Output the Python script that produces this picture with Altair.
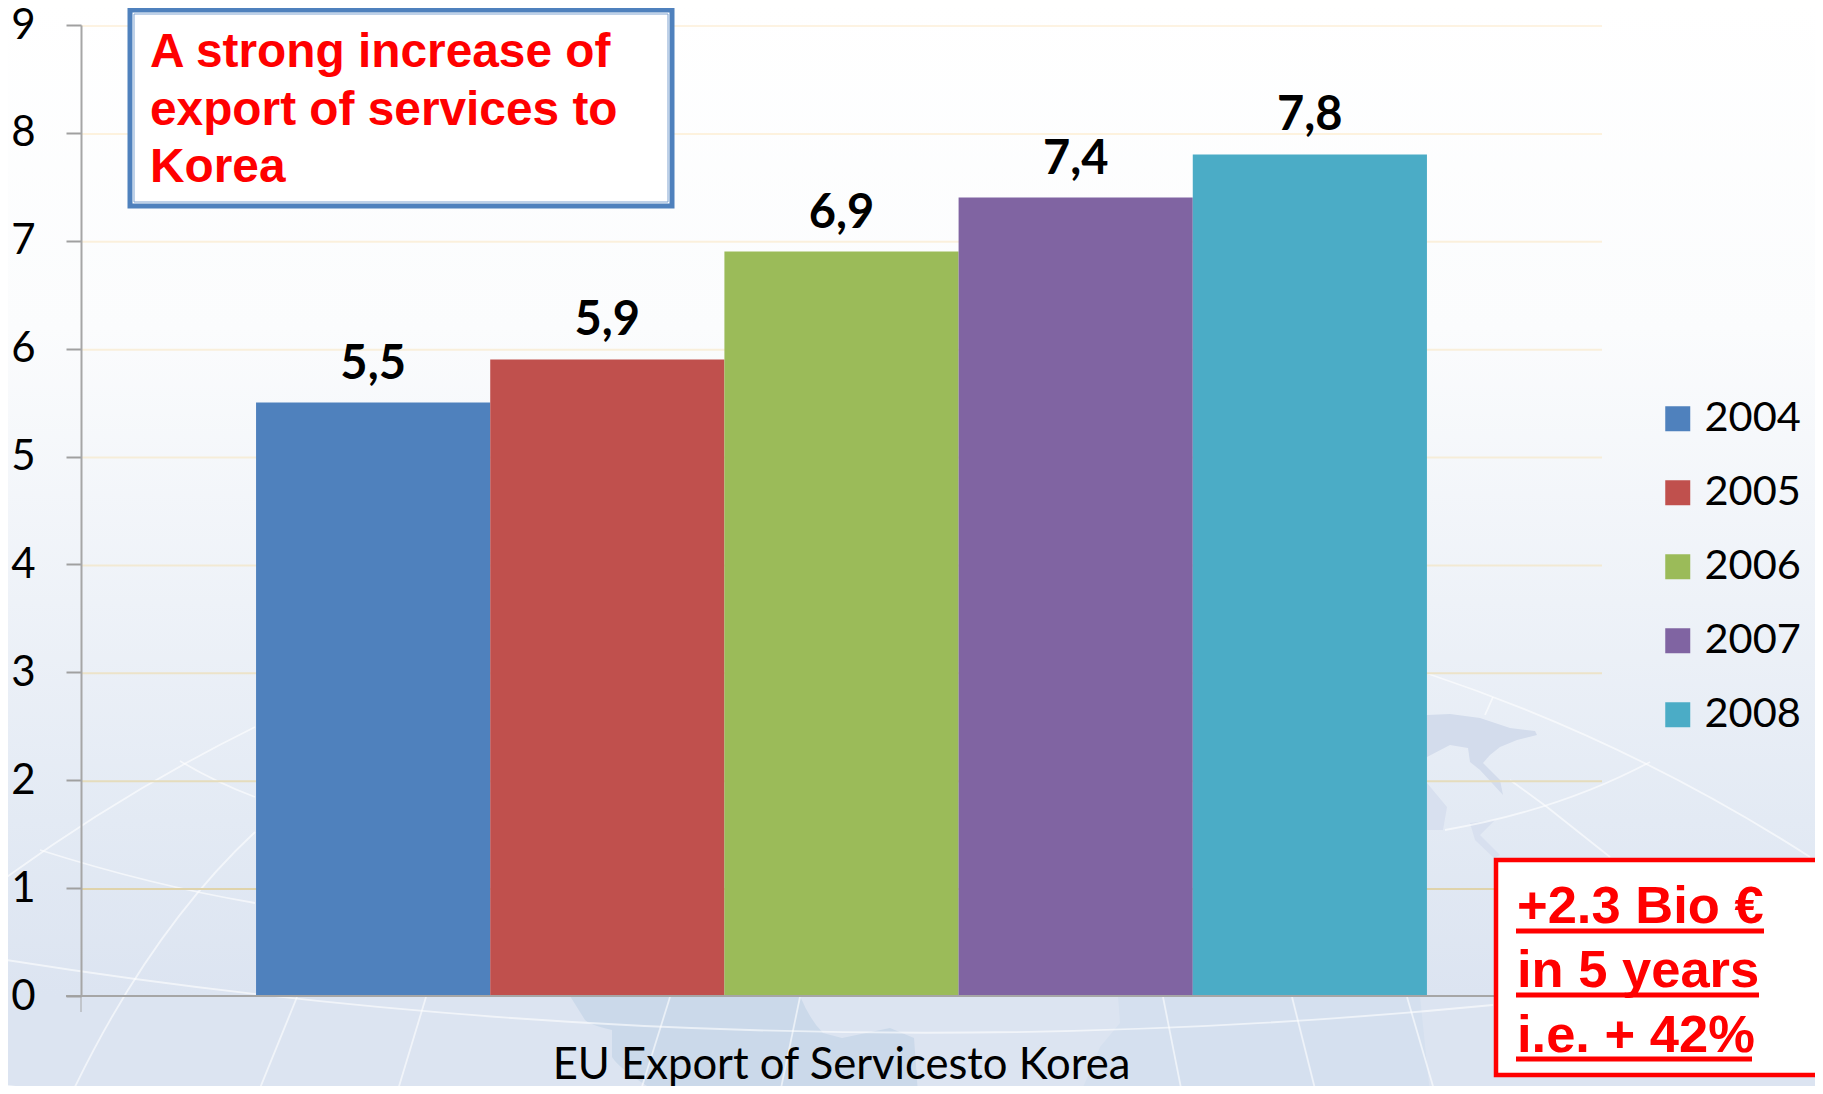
import altair as alt
import pandas as pd

years = ["2004", "2005", "2006", "2007", "2008"]
values = [5.5, 5.9, 6.9, 7.4, 7.8]
value_labels = ["5,5", "5,9", "6,9", "7,4", "7,8"]
bar_colors = ["#4f81bd", "#c0504d", "#9bbb59", "#8064a2", "#4bacc6"]
category = "EU Export of Servicesto Korea"
grid_values = [1, 2, 3, 4, 5, 6, 7, 8, 9]
grid_colors = ["#dfd3ab", "#e5dcbc", "#ece3c9", "#f2e9d3", "#f6edd9", "#f9efdb", "#fbf0dc", "#fdf2de", "#fdf3e2"]
note_lines = ["A strong increase of", "export of services to", "Korea"]
gain_lines = ["+2.3 Bio €", "in 5 years", "i.e. + 42%"]

W, H = 1521, 971
OX, OY = 81, 25          # page position of the plot origin
PW, PH = 1807, 1078

df = pd.DataFrame({"cat": [category] * 5, "year": years, "value": values, "label": value_labels})
grid_df = pd.DataFrame({"v": grid_values, "c": grid_colors})
one = alt.Data(values=[{"a": 1}])


def px(v):
    return alt.value(v - OX)


def py(v):
    return alt.value(v - OY)


def rect(x0, x1, y0, y1, **kw):
    return alt.Chart(one).mark_rect(**kw).encode(x=px(x0), x2=px(x1), y=py(y0), y2=py(y1))


def rule(x0, x1, y0, y1, **kw):
    return alt.Chart(one).mark_rule(**kw).encode(x=px(x0), x2=px(x1), y=py(y0), y2=py(y1))


def text(s, x, y, **kw):
    return alt.Chart(one).mark_text(text=s, align="left", baseline="alphabetic",
                                    font="Liberation Sans", fontWeight="bold", color="#ff0000", **kw
                                    ).encode(x=px(x), y=py(y))


def path(d, **kw):
    return alt.Chart(one).mark_point(shape=d, size=4, opacity=1, **kw).encode(x=px(0), y=py(0))


# Backdrop: soft gradient, faint land masses and the globe's graticule
backdrop = rect(0, 1900, 0, 1094, color=alt.LinearGradient(
    gradient="linear", x1=0, x2=0, y1=0, y2=1,
    stops=[alt.GradientStop(offset=0, color="#ffffff"),
           alt.GradientStop(offset=0.3, color="#fbfcfd"),
           alt.GradientStop(offset=0.55, color="#eef2f8"),
           alt.GradientStop(offset=0.75, color="#e3eaf4"),
           alt.GradientStop(offset=0.91, color="#dce4f1"),
           alt.GradientStop(offset=1, color="#dce4f1")]))

land = [
    ("M570 996L800 996Q810 1020 823 1033L842 1038L890 1028L914 1038L918 1094L660 1094Q620 1070 612 1057L612 1030Q590 1025 585 1020Z", "#cbd9ea"),
    ("M1118 996L1420 996L1430 1094L1080 1094Q1095 1060 1100 1047L1120 1023Z", "#d5e0ef"),
    ("M1427 715L1450 714L1480 718L1510 728L1535 731L1537 735L1517 740L1500 747L1490 755L1483 763L1500 780L1503 795L1480 770L1470 762L1468 748L1450 745L1427 757Z", "#d3dcec"),
    ("M1427 783L1447 807L1443 830L1427 830Z", "#d8e0ef"),
    ("M1470 823L1495 820L1480 835L1500 855L1494 858L1475 840Z", "#d8e0ef"),
]
land_layers = [path(d, filled=True, fill=c, stroke=None) for d, c in land]

graticule = [
    "M0 882A1709 1709 0 0 1 255 727",
    "M1426 673A1709 1709 0 0 1 1810 857",
    "M40 850Q150 885 255 903", "M180 761Q215 782 255 797",
    "M255 832Q150 930 72 1093",
    "M297 997L258 1093", "M426 997L397 1093", "M670 997L640 1093", "M800 997L780 1093",
    "M1163 997L1182 1093", "M1292 997L1316 1093", "M1407 997L1435 1093",
    "M0 959Q746 1078 1493 1005",
    "M0 1085L67 1093",
    "M1510 780L1547 807L1610 857",
    "M1445 830Q1560 810 1650 762",
    "M1493 697L1485 715",
]
grat_layers = [path(d, filled=False, stroke="#ffffff", strokeWidth=1.8, strokeOpacity=0.6) for d in graticule]

grid = alt.Chart(grid_df).mark_rule(strokeWidth=2, yOffset=1).encode(
    y=alt.Y("v:Q"),
    color=alt.Color("c:N", scale=None, legend=None),
)

x_enc = alt.X("cat:N", title=None, scale=alt.Scale(paddingInner=0, paddingOuter=0.1495),
              axis=alt.Axis(domain=False, ticks=False, labelAngle=0, labelFont="Lato", labelFontSize=43.6,
                            labelColor="#000000", labelPadding=82, labelBaseline="alphabetic", labelLimit=1000,
                            zindex=1))
xo_enc = alt.XOffset("year:N", scale=alt.Scale(paddingInner=0, paddingOuter=0), sort=years)
y_enc = alt.Y("value:Q", title=None, scale=alt.Scale(domain=[0, 9], nice=False),
              axis=alt.Axis(values=list(range(10)), format="d", grid=False, domainColor="#a6a6a6", domainWidth=2,
                            tickColor="#a0a0a0", tickWidth=2, tickSize=15, labelFont="Lato", labelFontSize=42,
                            labelColor="#000000", labelPadding=31, labelOverlap=False, zindex=1))

bars = alt.Chart(df).mark_bar(opacity=1).encode(
    x=x_enc, xOffset=xo_enc, y=y_enc,
    color=alt.Color("year:N", sort=years, scale=alt.Scale(domain=years, range=bar_colors),
                    legend=alt.Legend(title=None, orient="none", legendX=1657 - OX, legendY=398 - OY,
                                      symbolType="square", symbolSize=625, symbolStrokeWidth=0,
                                      labelFont="Lato", labelFontSize=41.5, labelColor="#000000",
                                      labelOffset=6, rowPadding=31, padding=0, labelLimit=200)),
)

labels = alt.Chart(df).mark_text(font="Lato", fontWeight="bold", fontSize=47, color="#000000",
                                 baseline="alphabetic", dy=-24).encode(
    x=alt.X("cat:N"), xOffset=alt.XOffset("year:N", sort=years), y=alt.Y("value:Q"), text="label:N")

x_domain = alt.Chart(one).mark_rule(color="#a6a6a6", strokeWidth=2).encode(
    x=alt.value(-15), x2=alt.value(W), y=alt.value(H))
y_tail = alt.Chart(one).mark_rule(color="#a6a6a6", strokeWidth=1).encode(
    x=alt.value(0), y=alt.value(H), y2=alt.value(H + 16))

note_box = [
    rect(130, 672, 10, 206, fill="#ffffff", stroke="#4f81bd", strokeWidth=5),
    rect(134, 668, 14, 202, fill="#ffffff", stroke="#7fa3d1", strokeWidth=1),
]
note_text = [text(s, 150, y, fontSize=47.8) for s, y in zip(note_lines, [67, 125, 182])]

gain_box = [rect(1496, 1900, 860, 1075, fill="#ffffff", stroke="#ff0000", strokeWidth=4.5)]
gain_text = [text(s, 1517, y, fontSize=52.5) for s, y in zip(gain_lines, [923, 987, 1052])]
underlines = [rule(1516, x1, y, y, color="#ff0000", strokeWidth=5)
              for x1, y in zip([1764, 1759, 1752], [931, 995, 1059])]

chart = alt.layer(
    backdrop, *land_layers, *grat_layers, grid, y_tail, bars, labels, x_domain,
    *note_box, *note_text, *gain_box, *gain_text, *underlines,
).resolve_scale(color="independent").properties(
    width=W, height=H,
    padding={"left": OX - 8, "top": OY - 8, "right": PW - (OX - 8) - W, "bottom": PH - (OY - 8) - H},
    autosize=alt.AutoSizeParams(type="none"),
    background="#ffffff",
).configure_view(stroke=None)

chart.save("out.html", embed_options={"renderer": "svg", "actions": False})
